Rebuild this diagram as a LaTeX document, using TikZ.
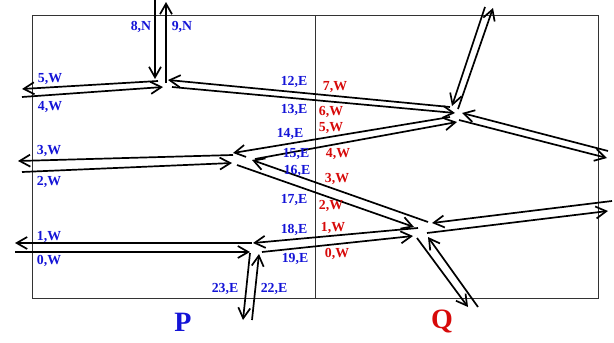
\documentclass[tikz,border=0pt]{standalone}
\usepackage{fontspec}
\setmainfont{Liberation Serif}
\usetikzlibrary{arrows.meta}
\definecolor{lblue}{RGB}{20,20,215}
\definecolor{lred}{RGB}{215,10,10}
\begin{document}
\begin{tikzpicture}[x=1pt,y=-1pt,
  link/.style={line width=1.7pt,-{Straight Barb[length=10.5pt,width=12pt]}},
  frame/.style={line width=0.8pt,draw=black!80},
  pl/.style={text=lblue,font=\fontsize{13.8}{15}\selectfont\bfseries,inner sep=0pt},
  ql/.style={text=lred,font=\fontsize{13.8}{15}\selectfont\bfseries,inner sep=0pt},
  bigp/.style={text=lblue,font=\fontsize{28}{30}\selectfont\bfseries,inner sep=0pt},
  bigq/.style={text=lred,font=\fontsize{28}{30}\selectfont\bfseries,inner sep=0pt}]
\useasboundingbox (0,0) rectangle (614,343);
% frame
\draw[frame] (32,15) rectangle (598,298);
\draw[frame] (315,15) -- (315,298);
% coordinates
\coordinate (n8a) at (155,0);   \coordinate (n8b) at (155,79);
\coordinate (n9a) at (166,83);  \coordinate (n9b) at (166,2);
\coordinate (w5a) at (158,81);  \coordinate (w5b) at (22,89);
\coordinate (w4a) at (22,97);   \coordinate (w4b) at (163,87);
\coordinate (e12a) at (450,107); \coordinate (e12b) at (168,80);
\coordinate (e13a) at (172,87);  \coordinate (e13b) at (455,113);
\coordinate (qnia) at (485,7);   \coordinate (qnib) at (452,106);
\coordinate (qnoa) at (458,109); \coordinate (qnob) at (493,8);
\coordinate (qeia) at (608,151); \coordinate (qeib) at (462,113);
\coordinate (qeoa) at (459,120); \coordinate (qeob) at (607,158);
\coordinate (e14a) at (450,117); \coordinate (e14b) at (233,153);
\coordinate (e15a) at (255,159); \coordinate (e15b) at (457,122);
\coordinate (w3a) at (233,155);  \coordinate (w3b) at (18,161);
\coordinate (w2a) at (22,172);   \coordinate (w2b) at (232,163);
\coordinate (e16a) at (428,222); \coordinate (e16b) at (252,160);
\coordinate (e17a) at (237,165); \coordinate (e17b) at (414,227);
\coordinate (w1a) at (252,243);  \coordinate (w1b) at (15,243);
\coordinate (w0a) at (15,252);   \coordinate (w0b) at (250,252);
\coordinate (e18a) at (418,228); \coordinate (e18b) at (253,243);
\coordinate (e19a) at (262,252); \coordinate (e19b) at (413,236);
\coordinate (s23a) at (250,253); \coordinate (s23b) at (243,320);
\coordinate (s22a) at (252,320); \coordinate (s22b) at (259,254);
\coordinate (qsoa) at (417,238); \coordinate (qsob) at (468,307);
\coordinate (qsia) at (478,307); \coordinate (qsib) at (428,237);
\coordinate (q2ia) at (612,201); \coordinate (q2ib) at (432,223);
\coordinate (q2oa) at (427,233); \coordinate (q2ob) at (608,211);
% links
\foreach \a/\b in {n8a/n8b,n9a/n9b,w5a/w5b,w4a/w4b,e12a/e12b,e13a/e13b,
  qnia/qnib,qnoa/qnob,qeia/qeib,qeoa/qeob,e14a/e14b,e15a/e15b,w3a/w3b,w2a/w2b,
  e16a/e16b,e17a/e17b,w1a/w1b,w0a/w0b,e18a/e18b,e19a/e19b,s23a/s23b,s22a/s22b,
  qsoa/qsob,qsia/qsib,q2ia/q2ib,q2oa/q2ob}
  \draw[link] (\a) -- (\b);
% P labels
\node[pl] (l8) at (141,27) {8,N};
\node[pl] (l9) at (182,27) {9,N};
\node[pl] (l5) at (50,79) {5,W};
\node[pl] (l4) at (50,107) {4,W};
\node[pl] (l12) at (294,82) {12,E};
\node[pl] (l13) at (294,110) {13,E};
\node[pl] (l14) at (290,134) {14,E};
\node[pl] (l15) at (296,154) {15,E};
\node[pl] (l16) at (297,171) {16,E};
\node[pl] (l17) at (294,200) {17,E};
\node[pl] (l3) at (49,151) {3,W};
\node[pl] (l2) at (49,182) {2,W};
\node[pl] (l1) at (49,237) {1,W};
\node[pl] (l0) at (49,261) {0,W};
\node[pl] (l18) at (294,230) {18,E};
\node[pl] (l19) at (295,259) {19,E};
\node[pl] (l23) at (225,289) {23,E};
\node[pl] (l22) at (274,289) {22,E};
% Q labels
\node[ql] (q7) at (335,87) {7,W};
\node[ql] (q6) at (331,112) {6,W};
\node[ql] (q5) at (331,128) {5,W};
\node[ql] (q4) at (338,154) {4,W};
\node[ql] (q3) at (337,179) {3,W};
\node[ql] (q2) at (331,206) {2,W};
\node[ql] (q1) at (333,228) {1,W};
\node[ql] (q0) at (337,254) {0,W};
% router names
\node[bigp] (P) at (183,322) {P};
\node[bigq] (Q) at (442,321) {Q};
\end{tikzpicture}
\end{document}
